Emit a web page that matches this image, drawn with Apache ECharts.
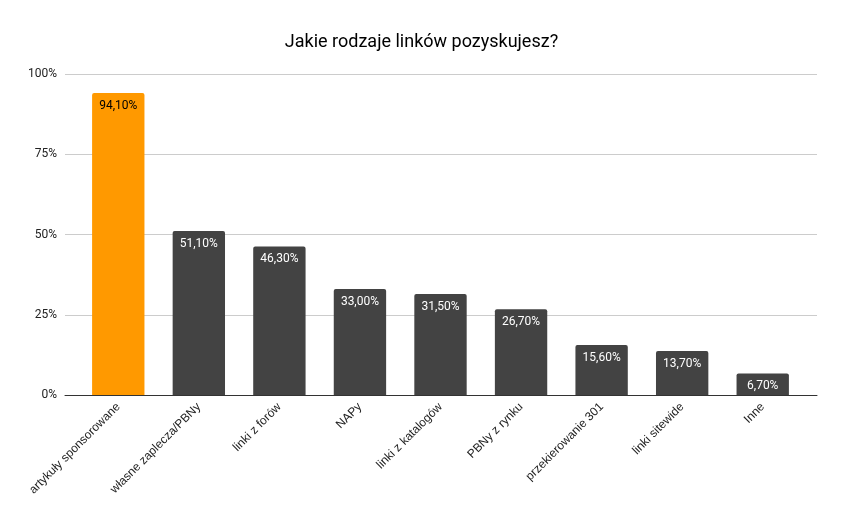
<!DOCTYPE html>
<html><head><meta charset="utf-8">
<script src="https://cdn.jsdelivr.net/npm/echarts@6/dist/echarts.min.js"></script>
<style>html,body{margin:0;padding:0;background:#fff}#c{width:843px;height:522px}</style>
</head><body><div id="c"></div>
<script>
const categories = ['artykuły sponsorowane','własne zaplecza/PBNy','linki z forów','NAPy','linki z katalogów','PBNy z rynku','przekierowanie 301','linki sitewide','Inne'];
const values = [94.1, 51.1, 46.3, 33.0, 31.5, 26.7, 15.6, 13.7, 6.7];
const yTicks = [0, 25, 50, 75, 100];
const highlightIndex = 0;

const chart = echarts.init(document.getElementById('c'), null, {renderer:'canvas'});
const font = 'Roboto, Arial, sans-serif';
chart.setOption({
  animation:false,
  backgroundColor:'#fff',
  title:{text:'Jakie rodzaje linków pozyskujesz?', left:'center', top:28,
    textStyle:{fontFamily:font, fontSize:18, fontWeight:'normal', color:'#000'}},
  grid:[
    {left:65, right:26, top:74, bottom:127},
    {left:78, right:40, top:74, bottom:127}
  ],
  xAxis:[
    {type:'category', gridIndex:0, data:[''], axisLine:{show:true, lineStyle:{color:'#333', width:1}},
     axisTick:{show:false}, axisLabel:{show:false}},
    {type:'category', gridIndex:1, data:categories, axisLine:{show:false}, axisTick:{show:false},
     axisLabel:{rotate:45, interval:0, margin:10, fontFamily:'Arial, "Liberation Sans", sans-serif', fontSize:12, color:'#222'}}
  ],
  yAxis:[
    {type:'value', gridIndex:0, min:yTicks[0], max:yTicks[yTicks.length-1], interval:25,
     axisLine:{show:false}, axisTick:{show:false},
     axisLabel:{formatter:'{value}%', fontFamily:font, fontSize:12, color:'#222', margin:8},
     splitLine:{lineStyle:{color:'#cccccc', width:1}}},
    {type:'value', gridIndex:1, min:0, max:100, show:false, splitLine:{show:false}}
  ],
  series:[{
    type:'bar', xAxisIndex:1, yAxisIndex:1, barCategoryGap:'35%',
    data: values.map((v,i)=>({value:v,
      itemStyle:{color: i===highlightIndex ? '#ff9900' : '#434343', borderRadius:[2,2,0,0]},
      label:{color: i===highlightIndex ? '#000' : '#fff'}})),
    label:{show:true, position:'insideTop', distance:7, fontFamily:font, fontSize:12,
      formatter: p => p.value.toFixed(2).replace('.', ',') + '%'}
  }]
});
</script></body></html>
